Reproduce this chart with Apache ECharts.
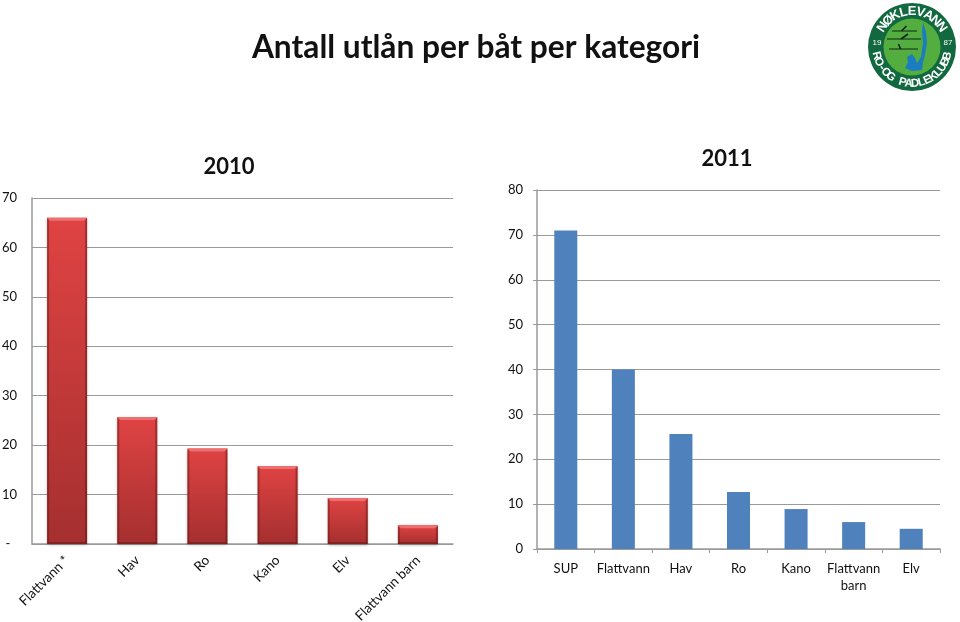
<!DOCTYPE html>
<html>
<head>
<meta charset="utf-8">
<style>
  html, body { margin: 0; padding: 0; background: #fff; }
  #chart { width: 960px; height: 622px; }
</style>
<script src="https://cdn.jsdelivr.net/npm/echarts@6/dist/echarts.min.js"></script>
</head>
<body>
<div id="chart"></div>
<script>
const categories2010 = ["Flattvann *", "Hav", "Ro", "Kano", "Elv", "Flattvann barn"];
const values2010 = [66, 25.7, 19.3, 15.8, 9.3, 3.8];
const categories2011 = ["SUP", "Flattvann", "Hav", "Ro", "Kano", "Flattvann\nbarn", "Elv"];
const values2011 = [71, 40, 25.6, 12.7, 8.9, 6, 4.5];

const fontName = "Lato";
const textColor = "#111";
const gridColor = "#9a9a9a";
const barShare2010 = 0.57;

// bevel edges on the red 3d bars
function renderBevel(params, api) {
  const top = api.coord([api.value(0), api.value(1)]);
  const base = api.coord([api.value(0), 0]);
  const w = api.size([1, 0])[0] * barShare2010;
  const l = top[0] - w / 2, r = top[0] + w / 2, t = top[1], b = base[1];
  const e = 2;
  const poly = (points, fill) => ({ type: "polygon", shape: { points }, style: { fill } });
  return {
    type: "group",
    children: [
      poly([[l, t], [r, t], [r - 3, t + 3], [l + 3, t + 3]], "#ee6f6f"),
      poly([[l, t], [l + e, t + 3], [l + e, b], [l, b]], "rgba(90,20,20,0.4)"),
      poly([[r, t], [r - e, t + 3], [r - e, b], [r, b]], "rgba(90,20,20,0.45)"),
      poly([[l, b], [l + e, b - 2], [r - e, b - 2], [r, b]], "rgba(90,20,20,0.45)")
    ]
  };
}

// logo, letters set one by one along the ring
function arcText(str, cx, cy, radius, fromDeg, toDeg, bottom, size) {
  const out = [];
  const n = str.length;
  for (let i = 0; i < n; i++) {
    const deg = fromDeg + (toDeg - fromDeg) * i / (n - 1);
    const rad = deg * Math.PI / 180;
    const x = cx + radius * Math.sin(rad);
    const y = cy - radius * Math.cos(rad);
    out.push({
      type: "text",
      x, y,
      rotation: bottom ? -(deg - 180) * Math.PI / 180 : -rad,
      z: 12,
      style: {
        text: str[i], fill: "#fff",
        font: "bold " + size + "px 'Liberation Sans Narrow', 'Liberation Sans'",
        align: "center", verticalAlign: "middle"
      }
    });
  }
  return out;
}

function boat(x1, x2, y, slant) {
  return [
    { type: "line", z: 12, shape: { x1, y1: y, x2, y2: y }, style: { stroke: "#10241a", lineWidth: 1 } },
    { type: "line", z: 12, shape: { x1: (x1 + x2) / 2 - 3, y1: y, x2: (x1 + x2) / 2 + slant, y2: y - 5 }, style: { stroke: "#10241a", lineWidth: 1.6 } }
  ];
}

const cx = 912, cy = 47;
const logo = [
  { type: "circle", z: 10, shape: { cx, cy, r: 44 }, style: { fill: "#12693f" } },
  { type: "circle", z: 11, shape: { cx, cy, r: 28.5 }, style: { fill: "#54ad3f" } },
  { type: "polygon", z: 12, shape: { points: [
    [923, 22], [926, 32], [927, 43], [925, 55], [923, 62], [922, 70], [912, 71],
    [905, 68], [908, 62], [907, 57], [912, 54], [915, 58], [917, 63], [921, 57], [923, 43], [922, 32]
  ] }, style: { fill: "#1c7cc0" } },
  ...boat(892, 917, 31, 2),
  ...boat(887, 921, 39, 4),
  ...boat(889, 918, 49, -5),
  { type: "text", z: 12, x: 877, y: 43, style: { text: "19", fill: "#fff", font: "8px 'Liberation Sans'", align: "center", verticalAlign: "middle" } },
  { type: "text", z: 12, x: 948, y: 43, style: { text: "87", fill: "#fff", font: "8px 'Liberation Sans'", align: "center", verticalAlign: "middle" } },
  ...arcText("NØKLEVANN", cx, cy, 35.5, -56, 56, false, 13),
  ...arcText("RO-OG PADLEKLUBB", cx, cy, 36.5, 256, 104, true, 11.5)
];

const chart = echarts.init(document.getElementById("chart"), null, { renderer: "canvas" });

chart.setOption({
  animation: false,
  backgroundColor: "#fff",
  title: [
    { text: "Antall utlån per båt per kategori", left: 471, top: 27, textAlign: "center",
      textStyle: { fontFamily: fontName, fontSize: 31.7, fontWeight: "bold", color: textColor } },
    { text: "2010", left: 224, top: 151, textAlign: "center",
      textStyle: { fontFamily: fontName, fontSize: 22, fontWeight: "bold", color: textColor } },
    { text: "2011", left: 722, top: 143, textAlign: "center",
      textStyle: { fontFamily: fontName, fontSize: 22, fontWeight: "bold", color: textColor } }
  ],
  grid: [
    { left: 32, top: 198, width: 421, height: 346, outerBoundsMode: "none" },
    { left: 537, top: 190, width: 403, height: 359, outerBoundsMode: "none" }
  ],
  xAxis: [
    {
      type: "category", gridIndex: 0, data: categories2010,
      axisTick: { show: false },
      axisLine: { lineStyle: { color: gridColor, width: 1.5 } },
      axisLabel: { rotate: 45, margin: 14, padding: [4, 0, 0, 0], interval: 0, fontFamily: fontName, fontSize: 13.5, color: textColor }
    },
    {
      type: "category", gridIndex: 1, data: categories2011,
      axisTick: { show: true, alignWithLabel: false, length: 4, lineStyle: { color: gridColor } },
      axisLine: { lineStyle: { color: gridColor, width: 1.5 } },
      axisLabel: { margin: 11, interval: 0, lineHeight: 17, fontFamily: fontName, fontSize: 13, color: textColor }
    }
  ],
  yAxis: [
    {
      type: "value", gridIndex: 0, min: 0, max: 70, interval: 10,
      axisLine: { show: true, lineStyle: { color: gridColor, width: 1.5 } },
      axisTick: { show: false },
      splitLine: { lineStyle: { color: gridColor, width: 1.2 } },
      axisLabel: {
        margin: 15, fontFamily: fontName, fontSize: 13, color: textColor,
        formatter: v => (v === 0 ? "-  " : String(v))
      }
    },
    {
      type: "value", gridIndex: 1, min: 0, max: 80, interval: 10,
      axisLine: { show: true, lineStyle: { color: gridColor, width: 1.5 } },
      axisTick: { show: true, length: 4, lineStyle: { color: gridColor } },
      splitLine: { lineStyle: { color: gridColor, width: 1.2 } },
      axisLabel: { margin: 14, fontFamily: fontName, fontSize: 13, color: textColor }
    }
  ],
  series: [
    {
      name: "2010", type: "bar", xAxisIndex: 0, yAxisIndex: 0,
      data: values2010, barWidth: barShare2010 * 100 + "%",
      itemStyle: {
        shadowColor: "rgba(0,0,0,0.3)", shadowBlur: 3, shadowOffsetY: 1,
        color: new echarts.graphic.LinearGradient(0, 0, 0, 1, [
          { offset: 0, color: "#e04343" },
          { offset: 1, color: "#a52f2f" }
        ])
      },
      z: 3
    },
    {
      name: "2010 bevel", type: "custom", xAxisIndex: 0, yAxisIndex: 0,
      data: values2010.map((v, i) => [i, v]),
      encode: { x: 0, y: 1 },
      renderItem: renderBevel,
      silent: true,
      z: 4
    },
    {
      name: "2011", type: "bar", xAxisIndex: 1, yAxisIndex: 1,
      data: values2011, barWidth: "40%",
      itemStyle: { color: "#4f81bd" },
      z: 3
    }
  ],
  graphic: logo
});
</script>
</body>
</html>
